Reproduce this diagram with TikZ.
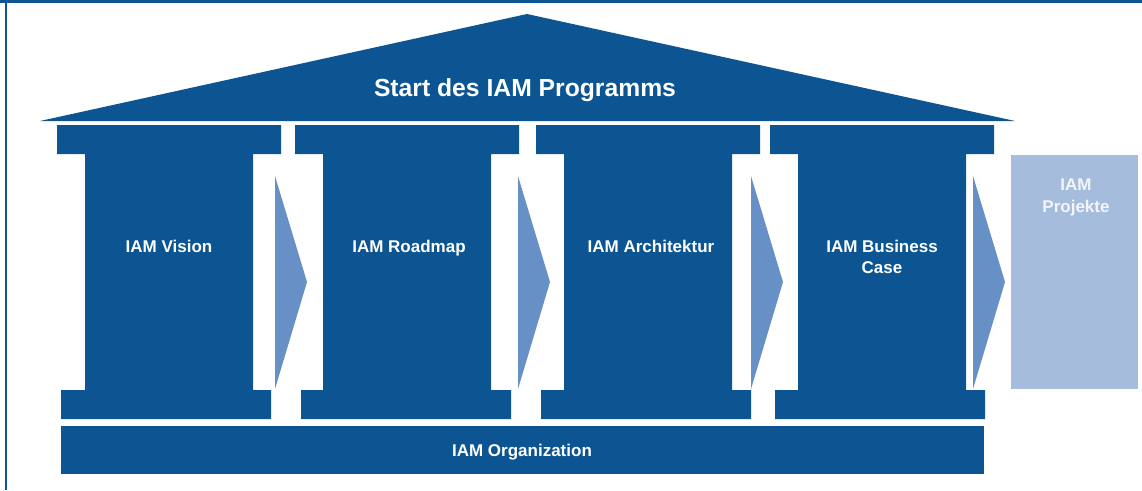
\documentclass[tikz,border=0pt]{standalone}
\usepackage{fontspec}
\setmainfont{Liberation Sans}
\definecolor{iamblue}{HTML}{0C5592}
\definecolor{iamarrow}{HTML}{6690C6}
\definecolor{iamlight}{HTML}{A5BCDC}
\definecolor{iamlighttext}{HTML}{F2F5FA}
\tikzset{
  lbl/.style={text=white, font=\bfseries\fontsize{17}{21.5}\selectfont, inner sep=0pt, align=center},
  ttl/.style={text=white, font=\bfseries\fontsize{24.7}{30}\selectfont, inner sep=0pt},
  pl/.style={fill=iamblue},
  chev/.style={fill=iamarrow}
}
\begin{document}
\begin{tikzpicture}[x=1pt,y=-1pt]
\useasboundingbox (0,0) rectangle (1142,490);
% frame
\draw[iamblue, line width=2.7pt] (0,1.35) -- (1142,1.35);
\draw[iamblue, line width=2pt] (6,0) -- (6,490);
% roof
\fill[pl] (40,121) -- (527,14) -- (1015,121) -- cycle;
% pillars
\foreach \c/\s/\b in {57/85/61, 295/323/301, 536/564/541, 770/798/775}{
  \fill[pl] (\c,125) -- ({\c+224},125) -- ({\c+224},154) -- ({\s+168},154)
    -- ({\s+168},390) -- ({\b+210},390) -- ({\b+210},419) -- (\b,419)
    -- (\b,390) -- (\s,390) -- (\s,154) -- (\c,154) -- cycle;
}
% chevrons
\foreach \a in {275,518,751,973}{
  \fill[chev] (\a,176) -- ({\a+32},282) -- (\a,389) -- cycle;
}
% projects box
\fill[iamlight] (1011,155) rectangle (1138,389);
% organization bar
\fill[pl] (61,426) rectangle (984,474);
% texts
\node[ttl, anchor=base] (title) at (525,96) {Start des IAM Programms};
\node[lbl, anchor=base] (vision) at (169,252) {IAM Vision};
\node[lbl, anchor=base] (roadmap) at (409,252) {IAM Roadmap};
\node[lbl, anchor=base] (arch) at (651,252) {IAM Architektur};
\node[lbl] (bcase) at (882,256.8) {IAM Business\\Case};
\node[lbl, text=iamlighttext] (proj) at (1076,197.5) {IAM\\Projekte};
\node[lbl, anchor=base] (org) at (522,456) {IAM Organization};
\end{tikzpicture}
\end{document}
